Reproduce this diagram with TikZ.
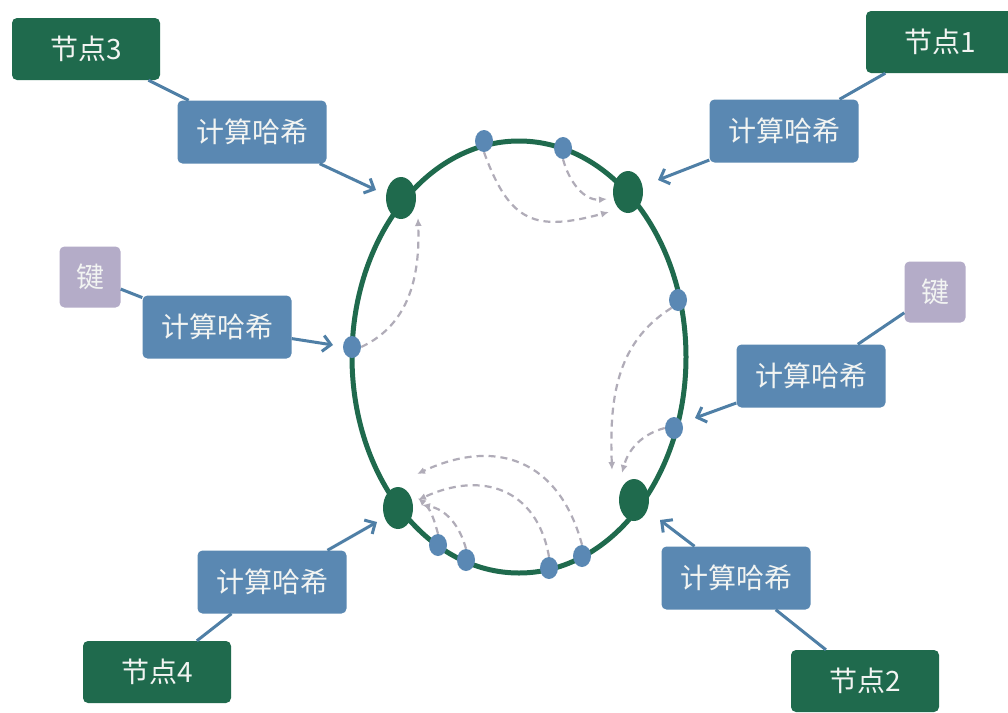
\documentclass[tikz,border=0pt]{standalone}
\usepackage{fontspec}
\newfontfamily\cjk{Noto Sans CJK SC}
\usetikzlibrary{shapes.geometric,arrows.meta}
\definecolor{dgreen}{HTML}{1F6A4D}
\definecolor{sblue}{HTML}{5A88B2}
\definecolor{linkblue}{HTML}{4F7FA6}
\definecolor{lav}{HTML}{B4ACC8}
\definecolor{dashgray}{HTML}{B0ACB8}
\definecolor{dotblue}{HTML}{5A88B4}
\definecolor{txt}{HTML}{F2F4F2}
\begin{document}
\begin{tikzpicture}[x=1pt,y=-1pt,
  boxtext/.style={text=txt, font=\cjk\fontsize{28}{30}\selectfont, inner sep=0pt, rounded corners=5pt},
  nodebox/.style={boxtext, fill=dgreen, minimum width=148pt, minimum height=62pt},
  hashbox/.style={boxtext, fill=sblue, minimum width=149pt, minimum height=63pt},
  keybox/.style={boxtext, fill=lav, minimum width=61pt, minimum height=61pt},
  bignode/.style={ellipse, fill=dgreen, minimum width=30pt, minimum height=42pt, inner sep=0pt},
  smalldot/.style={ellipse, fill=dotblue, minimum width=18pt, minimum height=22pt, inner sep=0pt},
  linkline/.style={draw=linkblue, line width=3pt},
  hasharrow/.style={draw=linkblue, line width=3pt, -{Straight Barb[length=8pt,width=16pt,line width=3pt]}},
  dasharrow/.style={draw=dashgray, line width=2.2pt, dash pattern=on 7pt off 5pt, -{Latex[length=8pt,width=7pt]}}
]
\useasboundingbox (0,0) rectangle (1008,712);
\fill[white] (0,0) rectangle (1008,712);

% ring
\node[draw=dgreen, line width=5pt, ellipse, minimum width=334pt, minimum height=432pt, inner sep=0pt] (ring) at (519,357) {};

% big nodes
\node[bignode] (p3) at (401,198) {};
\node[bignode] (p1) at (628,192) {};
\node[bignode] (p4) at (398,508) {};
\node[bignode] (p2) at (634,500) {};

% small dots
\node[smalldot] (t1) at (484,141) {};
\node[smalldot] (t2) at (563,148) {};
\node[smalldot] (r1) at (678,300) {};
\node[smalldot] (r2) at (674,428) {};
\node[smalldot] (l1) at (352,347) {};
\node[smalldot] (b1) at (438,545) {};
\node[smalldot] (b2) at (466,560) {};
\node[smalldot] (b3) at (549,568) {};
\node[smalldot] (b4) at (582,556) {};

% dashed arrow ends
\coordinate (e1) at (609,212);
\coordinate (e2) at (607,199);
\coordinate (e3) at (418,218);
\coordinate (e4) at (612,470);
\coordinate (e5) at (622,473);
\coordinate (e6) at (418,498);
\coordinate (e7) at (422,505);
\coordinate (e8) at (418,500);
\coordinate (e9) at (417,474);

\draw[dasharrow] (t1.south) to[out=-70,in=195,looseness=1.4] (e1);
\draw[dasharrow] (t2.south) to[out=-75,in=185] (e2);
\draw[dasharrow] (l1.east) to[out=25,in=-88] (e3);
\draw[dasharrow] (r1.south west) to[out=212,in=92] (e4);
\draw[dasharrow] (r2.west) to[out=195,in=75] (e5);
\draw[dasharrow] (b1.north) to[out=105,in=-40] (e6);
\draw[dasharrow] (b2.north) to[out=105,in=-10] (e7);
\draw[dasharrow] (b3.north) to[out=100,in=25,looseness=1.25] (e8);
\draw[dasharrow] (b4.north) to[out=105,in=25,looseness=1.25] (e9);

% boxes
\node[nodebox] (n3) at (86,49) {节点3};
\node[nodebox] (n1) at (940,42) {节点1};
\node[nodebox] (n4) at (157,672) {节点4};
\node[nodebox] (n2) at (865,681) {节点2};

\node[hashbox] (h3) at (252,132) {计算哈希};
\node[hashbox] (h1) at (784,131) {计算哈希};
\node[hashbox] (hl) at (217,327) {计算哈希};
\node[hashbox] (hr) at (811,376) {计算哈希};
\node[hashbox] (h4) at (272,582) {计算哈希};
\node[hashbox] (h2) at (736,578) {计算哈希};

\node[keybox] (kl) at (90,277) {键};
\node[keybox] (kr) at (935,292) {键};

% arrow targets
\coordinate (a3) at (376,190);
\coordinate (a1) at (658,180);
\coordinate (al) at (333,345);
\coordinate (ar) at (695,418);
\coordinate (a4) at (377,522);
\coordinate (a2) at (660,520);

% links
\draw[linkline] (n3) -- (h3);
\draw[linkline] (n1) -- (h1);
\draw[linkline] (kl) -- (hl);
\draw[linkline] (kr) -- (hr);
\draw[linkline] (n4) -- (h4);
\draw[linkline] (n2) -- (h2);

\draw[hasharrow] (h3) -- (a3);
\draw[hasharrow] (h1) -- (a1);
\draw[hasharrow] (hl) -- (al);
\draw[hasharrow] (hr) -- (ar);
\draw[hasharrow] (h4) -- (a4);
\draw[hasharrow] (h2) -- (a2);
\end{tikzpicture}
\end{document}
